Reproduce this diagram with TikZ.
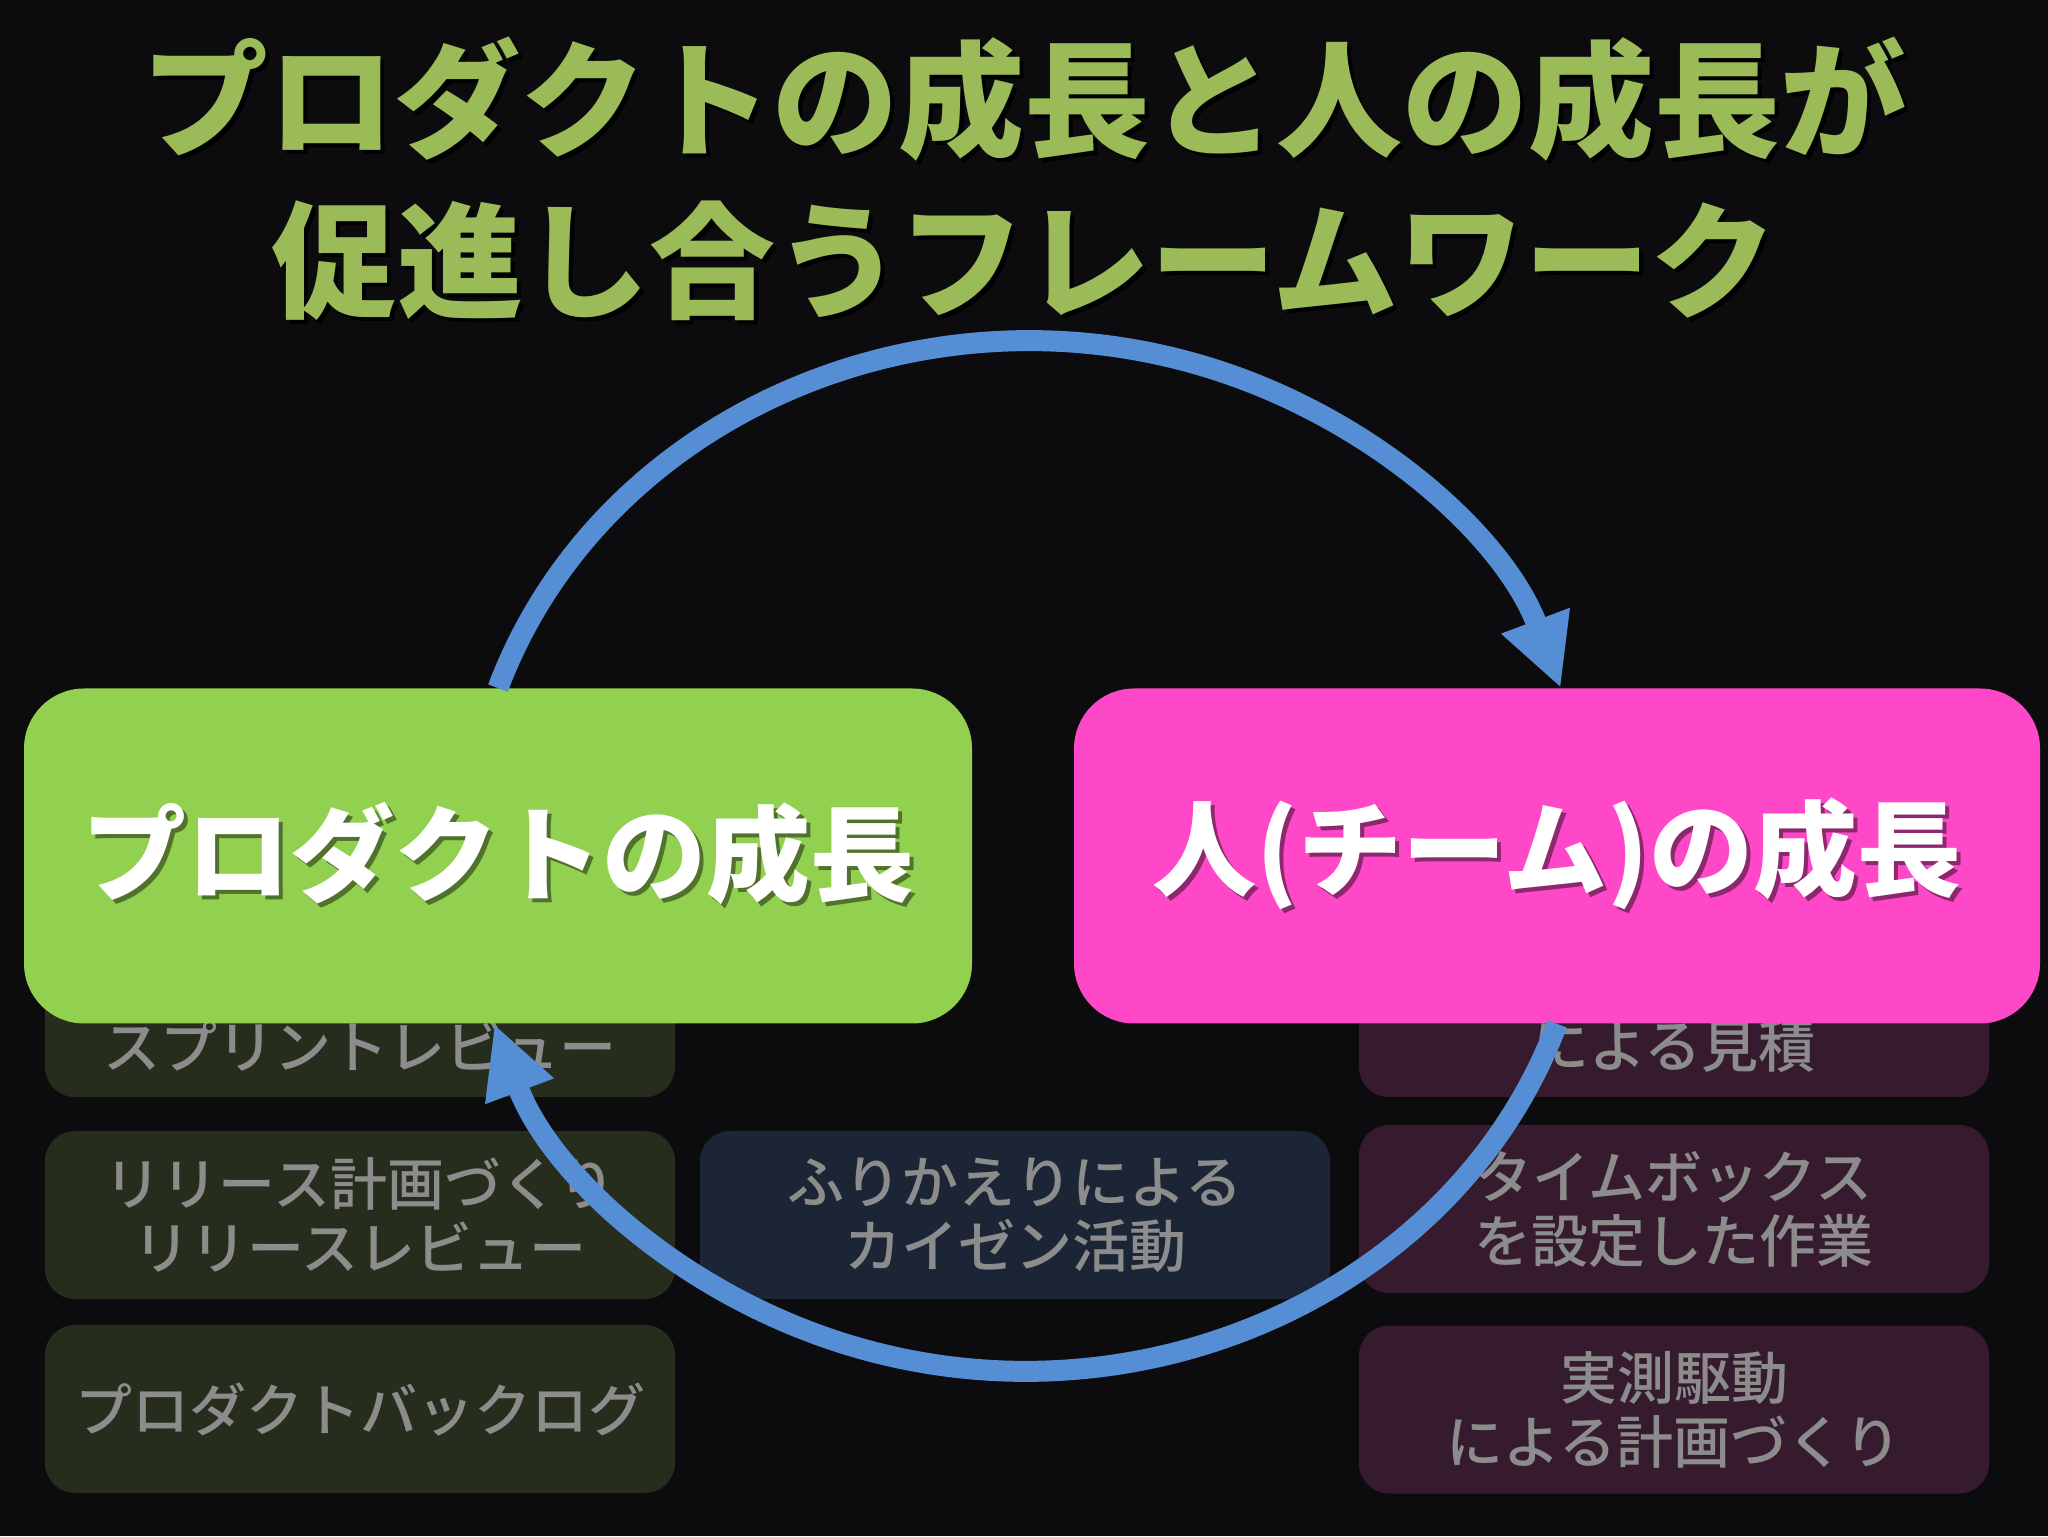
\documentclass[tikz,border=0pt]{standalone}
\usepackage{fontspec}
\setmainfont{Noto Sans CJK JP}
\newfontfamily\jpmedium{Noto Sans CJK JP}[UprightFont=* Medium]
\usetikzlibrary{arrows.meta}

\definecolor{bg}{HTML}{0C0C0E}
\definecolor{titlegreen}{HTML}{9BBB59}
\definecolor{prodgreen}{HTML}{92D050}
\definecolor{teampink}{HTML}{FF48C8}
\definecolor{loopblue}{HTML}{558ED5}
\definecolor{prodpale}{HTML}{262D1C}
\definecolor{retropale}{HTML}{1C2535}
\definecolor{teampale}{HTML}{361A2E}
\definecolor{boxtext}{HTML}{8C8C8C}

% text with a soft drop shadow
\newcommand\shadowed[2][black]{\makebox[0pt][l]{\kern2pt\raisebox{-2pt}{\textcolor{#1}{#2}}}#2}

\begin{document}
\begin{tikzpicture}[x=1pt, y=1pt,
	smallbox/.style={rounded corners=15pt, minimum width=315pt, minimum height=84pt, inner sep=0pt,
		align=center, text=boxtext, font=\fontsize{28.5pt}{32pt}\selectfont\jpmedium},
	bigbox/.style={rounded corners=30pt, minimum width=474pt, minimum height=167.5pt, inner sep=0pt,
		text=white, font=\fontsize{52pt}{60pt}\selectfont\bfseries},
	cycle/.style={line width=10.5pt, draw=loopblue, -{Triangle[length=36pt,width=34pt]}}]
 	\fill [bg] (0,0) rectangle (1024,768);

	\node [text=titlegreen, align=center, font=\fontsize{63pt}{80.5pt}\selectfont\bfseries] (title) at (512,677.75)
		{\shadowed{プロダクトの成長と人の成長が}\\\shadowed{促進し合うフレームワーク}};

	% practices, product side
	\node [smallbox, fill=prodpale] (sprint) at (180,261.5) {\strut\\スプリントレビュー};
	\node [smallbox, fill=prodpale] (release) at (180,160.5) {リリース計画づくり\\リリースレビュー};
	\node [smallbox, fill=prodpale] (backlog) at (180,63.5) {プロダクトバックログ};
	\node [smallbox, fill=retropale] (retro) at (507.5,160.5) {ふりかえりによる\\カイゼン活動};
	% practices, team side
	\node [smallbox, fill=teampale] (estimate) at (837,261.5) {\strut\\による見積};
	\node [smallbox, fill=teampale] (timebox) at (837,163.5) {タイムボックス\\を設定した作業};
	\node [smallbox, fill=teampale] (measure) at (837,63.25) {実測駆動\\による計画づくり};

	\node [bigbox, fill=prodgreen] (prod) at (249,340)
		{\raisebox{3pt}{\shadowed[prodgreen!55!black]{プロダクトの成長}}};
	\node [bigbox, fill=teampink, minimum width=483pt] (team) at (778.5,340)
		{\raisebox{3pt}{\shadowed[teampink!55!black]{人(チーム)の成長}}};

	\draw [cycle] (prod.north) arc [start angle=161, end angle=19, x radius=281, y radius=257.5];
	\draw [cycle] (team.south) arc [start angle=-19, end angle=-161, x radius=281, y radius=257.5];

\end{tikzpicture}
\end{document}
